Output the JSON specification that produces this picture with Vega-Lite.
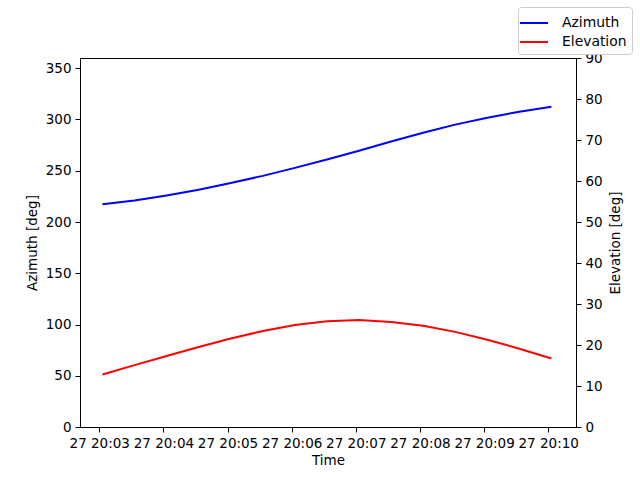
{
  "$schema": "https://vega.github.io/schema/vega-lite/v6.json",
  "description": "Azimuth and elevation over time, twin y axes.",
  "width": 496,
  "height": 369,
  "autosize": {"type": "none"},
  "padding": {"left": 80, "top": 58, "right": 64, "bottom": 53},
  "data": {
    "values": [
      {"time": "2024-01-27T20:03:03", "azimuth": 217.3, "elevation": 12.8},
      {"time": "2024-01-27T20:03:33", "azimuth": 221.0, "elevation": 15.1},
      {"time": "2024-01-27T20:04:03", "azimuth": 225.8, "elevation": 17.3},
      {"time": "2024-01-27T20:04:33", "azimuth": 231.5, "elevation": 19.5},
      {"time": "2024-01-27T20:05:03", "azimuth": 238.0, "elevation": 21.6},
      {"time": "2024-01-27T20:05:33", "azimuth": 245.0, "elevation": 23.4},
      {"time": "2024-01-27T20:06:03", "azimuth": 252.8, "elevation": 24.9},
      {"time": "2024-01-27T20:06:33", "azimuth": 261.0, "elevation": 25.8},
      {"time": "2024-01-27T20:07:03", "azimuth": 269.5, "elevation": 26.1},
      {"time": "2024-01-27T20:07:33", "azimuth": 278.5, "elevation": 25.6},
      {"time": "2024-01-27T20:08:03", "azimuth": 287.0, "elevation": 24.7},
      {"time": "2024-01-27T20:08:33", "azimuth": 295.0, "elevation": 23.2},
      {"time": "2024-01-27T20:09:03", "azimuth": 301.8, "elevation": 21.3},
      {"time": "2024-01-27T20:09:33", "azimuth": 307.6, "elevation": 19.1},
      {"time": "2024-01-27T20:10:03", "azimuth": 312.5, "elevation": 16.7}
    ]
  },
  "encoding": {
    "x": {
      "field": "time",
      "type": "temporal",
      "scale": {
        "domain": [
          {"year": 2024, "month": 1, "date": 27, "hours": 20, "minutes": 2, "seconds": 42},
          {"year": 2024, "month": 1, "date": 27, "hours": 20, "minutes": 10, "seconds": 26}
        ]
      },
      "axis": {
        "title": "Time",
        "format": "%d %H:%M",
        "titlePadding": 4,
        "values": [
          {"year": 2024, "month": 1, "date": 27, "hours": 20, "minutes": 3},
          {"year": 2024, "month": 1, "date": 27, "hours": 20, "minutes": 4},
          {"year": 2024, "month": 1, "date": 27, "hours": 20, "minutes": 5},
          {"year": 2024, "month": 1, "date": 27, "hours": 20, "minutes": 6},
          {"year": 2024, "month": 1, "date": 27, "hours": 20, "minutes": 7},
          {"year": 2024, "month": 1, "date": 27, "hours": 20, "minutes": 8},
          {"year": 2024, "month": 1, "date": 27, "hours": 20, "minutes": 9},
          {"year": 2024, "month": 1, "date": 27, "hours": 20, "minutes": 10}
        ]
      }
    }
  },
  "layer": [
    {
      "mark": {"type": "line", "strokeWidth": 2},
      "encoding": {
        "y": {
          "field": "azimuth",
          "type": "quantitative",
          "scale": {"domain": [0, 360], "nice": false},
          "axis": {
            "orient": "left",
            "title": "Azimuth [deg]",
            "values": [0, 50, 100, 150, 200, 250, 300, 350],
            "titlePadding": 6
          }
        },
        "color": {
          "datum": "Azimuth",
          "type": "nominal",
          "scale": {"domain": ["Azimuth", "Elevation"], "range": ["blue", "red"]},
          "legend": {
            "title": null,
            "orient": "none",
            "legendX": 438,
            "legendY": -51,
            "symbolType": "M-1.4,0H1.4",
            "symbolSize": 400,
            "symbolStrokeWidth": 2,
            "labelFontSize": 13.9,
            "labelFont": "DejaVu Sans",
            "labelColor": "black",
            "labelOffset": 17,
            "rowPadding": 1,
            "padding": 5,
            "strokeColor": "#cccccc",
            "fillColor": "white",
            "cornerRadius": 3
          }
        }
      }
    },
    {
      "mark": {"type": "line", "strokeWidth": 2},
      "encoding": {
        "y": {
          "field": "elevation",
          "type": "quantitative",
          "scale": {"domain": [0, 90], "nice": false},
          "axis": {
            "orient": "right",
            "title": "Elevation [deg]",
            "titleAngle": 270,
            "titleBaseline": "top",
            "values": [0, 10, 20, 30, 40, 50, 60, 70, 80, 90],
            "titlePadding": 6
          }
        },
        "color": {"datum": "Elevation", "type": "nominal"}
      }
    }
  ],
  "resolve": {"scale": {"y": "independent"}},
  "config": {
    "view": {"stroke": "black", "strokeWidth": 1},
    "font": "DejaVu Sans",
    "axis": {
      "grid": false,
      "domainColor": "black",
      "tickColor": "black",
      "tickSize": 5,
      "labelPadding": 4,
      "labelFontSize": 13.5,
      "labelFont": "DejaVu Sans",
      "labelColor": "black",
      "labelFlush": false,
      "labelOverlap": false,
      "titleFontSize": 13.5,
      "titleFont": "DejaVu Sans",
      "titleFontWeight": "normal",
      "titleColor": "black"
    }
  }
}
